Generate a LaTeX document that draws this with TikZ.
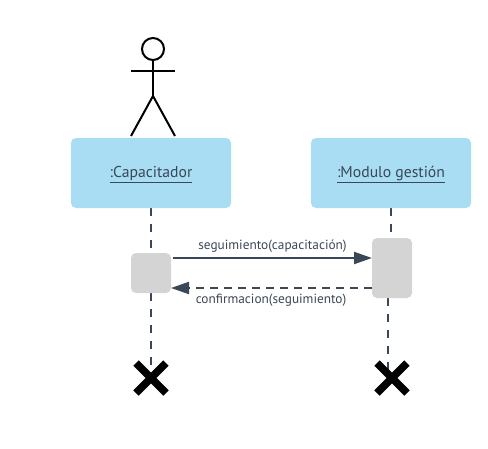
\documentclass[tikz,border=0pt]{standalone}
\usepackage{fontspec}
\setmainfont{PT Sans}
\usetikzlibrary{arrows.meta}
\definecolor{boxblue}{HTML}{A9DDF3}
\definecolor{actgray}{HTML}{D4D4D4}
\definecolor{ink}{HTML}{3A4756}
\tikzset{
  objbox/.style={fill=boxblue,draw=none,rounded corners=5pt,minimum width=160pt,minimum height=70pt,inner sep=0pt,text=ink,font=\fontsize{15.7}{18}\selectfont},
  actbox/.style={fill=actgray,draw=none,rounded corners=5pt,minimum width=40pt,inner sep=0pt},
  lifeline/.style={ink,line width=2pt,dash pattern=on 8pt off 8pt},
  msg/.style={ink,line width=2pt,-{Triangle[length=18pt,width=12pt]}},
  msglabel/.style={text=ink,inner sep=0pt,font=\fontsize{13.3}{15}\selectfont},
  stickman/.style={black,line width=2pt},
  endmark/.style={black,line width=7.5pt}
}
\begin{document}
\begin{tikzpicture}[x=1pt,y=-1pt]
\useasboundingbox (0,0) rectangle (488,448);
% actor
\node[circle,draw=black,line width=2pt,minimum size=22pt,inner sep=0pt] (head) at (153,49) {};
\coordinate (hip) at (153,96);
\coordinate (armL) at (131,71);
\coordinate (armR) at (175,71);
\coordinate (footL) at (131,136);
\coordinate (footR) at (175,136);
\draw[stickman] (head.south) -- (hip);
\draw[stickman] (armL) -- (armR);
\draw[stickman] (footL) -- (hip) -- (footR);
% lifeline end points
\coordinate (endL) at (151,378);
\coordinate (endR) at (392,378);
\coordinate (a1t) at (151,253);
\coordinate (a1b) at (151,293);
\coordinate (a2t) at (391,238);
\coordinate (a2b) at (388,298);
\coordinate (a2bend) at (388,378);
\coordinate (o1b) at (151,208);
\coordinate (o2b) at (391,208);
\draw[lifeline] (o1b) -- (a1t);
\draw[lifeline] (a1b) -- (endL);
\draw[lifeline] (o2b) -- (a2t);
\draw[lifeline] (a2b) -- (a2bend);
% objects
\node[objbox] (cap) at (151,173) {};
\node[objbox] (mod) at (391,173) {};
\node[text=ink,inner sep=0pt,font=\fontsize{15.7}{18}\selectfont] (capt) at (151,174.5) {\underline{:Capacitador}};
\node[text=ink,inner sep=0pt,font=\fontsize{15.7}{18}\selectfont] (modt) at (391,174.5) {\underline{:Modulo gestión}};
% activations
\node[actbox,minimum height=40pt] (act1) at (151,273) {};
\node[actbox,minimum height=60pt] (act2) at (392,268) {};
% messages
\coordinate (m1s) at (173,258);
\coordinate (m1e) at (372,258);
\coordinate (m2s) at (372,288);
\coordinate (m2e) at (171,288);
\draw[msg] (m1s) -- (m1e);
\draw[msg,dash pattern=on 8pt off 6pt] (m2s) -- (m2e);
\node[msglabel] (l1) at (272.5,246) {seguimiento(capacitación)};
\node[msglabel] (l2) at (271,300) {confirmacion(seguimiento)};
% destruction marks
\draw[endmark] (136,363) -- (166,393) (166,363) -- (136,393);
\draw[endmark] (377,363) -- (407,393) (407,363) -- (377,393);
\end{tikzpicture}
\end{document}
